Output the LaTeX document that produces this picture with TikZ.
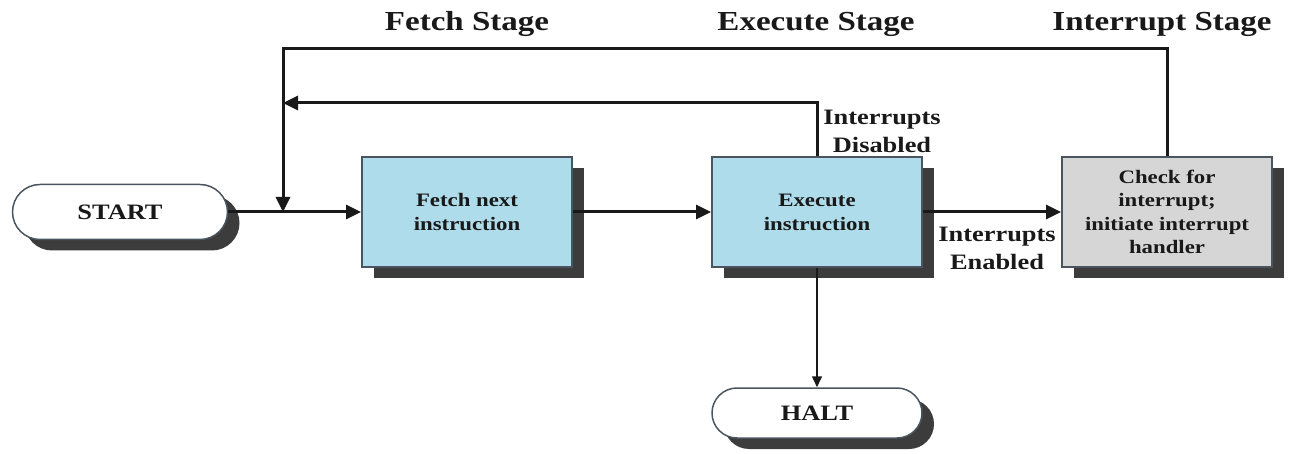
\documentclass[tikz,border=0pt]{standalone}
\usepackage{fontspec}
\setmainfont[FakeStretch=1.2]{Liberation Serif}
\usetikzlibrary{arrows.meta,shapes.misc,shadows}
\definecolor{boxblue}{RGB}{174,220,234}
\definecolor{boxgray}{RGB}{214,214,214}
\definecolor{shade}{RGB}{60,60,60}
\definecolor{edge}{RGB}{75,85,95}
\definecolor{ink}{RGB}{25,25,25}
\begin{document}
\begin{tikzpicture}[x=1pt,y=-1pt,
 shadowed/.style={drop shadow={shadow xshift=12pt,shadow yshift=-11pt,fill=shade,opacity=1}},
 proc/.style={shadowed,draw=edge,line width=2pt,minimum width=210pt,minimum height=110pt,inner sep=0pt,align=center,text=ink,font=\bfseries\fontsize{19}{24}\selectfont},
 term/.style={shadowed,rounded rectangle,draw=edge,line width=1.5pt,fill=white,inner sep=0pt,text=ink,font=\bfseries\fontsize{22}{26}\selectfont},
 stage/.style={font=\bfseries\fontsize{27.5}{30}\selectfont,text=ink},
 lbl/.style={font=\bfseries\fontsize{22}{28}\selectfont,align=center,text=ink},
 flow/.style={line width=3pt,draw=ink,-{Triangle[length=15pt,width=14pt]}},
 thinflow/.style={line width=1.5pt,draw=ink,-{Triangle[length=11pt,width=10pt]}}
]
\useasboundingbox (0,0) rectangle (1295,454);
\node[term,minimum width=215pt,minimum height=55pt] (start) at (120,212) {START};
\node[proc,fill=boxblue] (fetch) at (467,212) {Fetch next\\instruction};
\node[proc,fill=boxblue] (exec) at (817,212) {Execute\\instruction};
\node[proc,fill=boxgray,font=\bfseries\fontsize{19}{23.5}\selectfont] (check) at (1167,212) {Check for\\interrupt;\\initiate interrupt\\handler};
\node[term,minimum width=210pt,minimum height=50pt] (halt) at (817,413) {HALT};
\coordinate (j) at (283,212);
\coordinate (tl) at (283,49);
\coordinate (ml) at (283,103);
\coordinate (tr) at (1167,49);
\coordinate (em) at (817,103);
\node[stage] (fs) at (467,24) {Fetch Stage};
\node[stage] (es) at (816,24) {Execute Stage};
\node[stage] (is) at (1162,24) {Interrupt Stage};
\node[lbl] (dis) at (882,131) {Interrupts\\Disabled};
\node[lbl] (en) at (997,248) {Interrupts\\Enabled};
\draw[flow] (start.east) -- (fetch.west);
\draw[flow] (check.north) -- (tr) -- (tl) -- (j);
\draw[flow] (exec.north) -- (em) -- (ml);
\draw[flow] (fetch.east) -- (exec.west);
\draw[flow] (exec.east) -- (check.west);
\draw[thinflow] (exec.south) -- (halt.north);
\end{tikzpicture}
\end{document}
